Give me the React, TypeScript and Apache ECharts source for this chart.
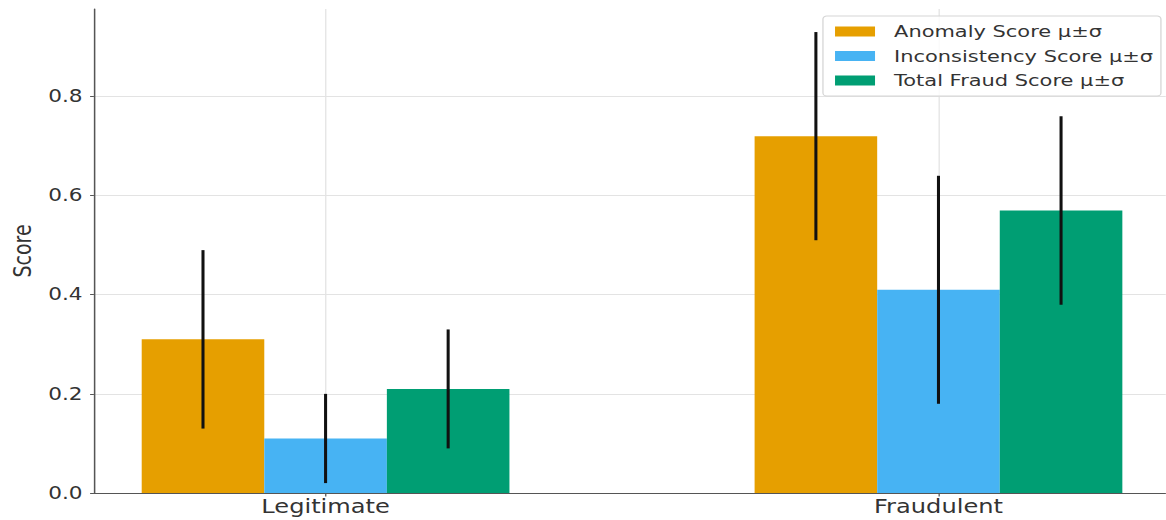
import React, { useEffect, useRef } from 'react';
import * as echarts from 'echarts';

// Group means and standard deviations per class
const categories = ['Legitimate', 'Fraudulent'];
const anomalyMean = [0.31, 0.72];
const anomalyStd = [0.18, 0.21];
const inconsistencyMean = [0.11, 0.41];
const inconsistencyStd = [0.09, 0.23];
const totalMean = [0.21, 0.57];
const totalStd = [0.12, 0.19];
const yTicks = [0, 0.2, 0.4, 0.6, 0.8];

const seriesNames = ['Anomaly Score μ±σ', 'Inconsistency Score μ±σ', 'Total Fraud Score μ±σ'];
const seriesColors = ['#E69F00', '#47B3F3', '#009E73'];
const seriesMeans = [anomalyMean, inconsistencyMean, totalMean];
const seriesStds = [anomalyStd, inconsistencyStd, totalStd];

const BAR_W = 0.2;
// The figure is laid out narrower and stretched horizontally to fill the page
const SX = 1.27;
const WIDTH = 1166 / SX;
const HEIGHT = 520;
const FONT = 'DejaVu Sans';

const makeRender = (offset: number) => (_params: any, api: any) => {
  const x = api.value(0) + offset;
  const m = api.value(1);
  const s = api.value(2);
  const tl = api.coord([x - BAR_W / 2, m]);
  const br = api.coord([x + BAR_W / 2, 0]);
  const hi = api.coord([x, m + s]);
  const lo = api.coord([x, m - s]);
  return {
    type: 'group',
    children: [
      {
        type: 'rect',
        shape: { x: tl[0], y: tl[1], width: br[0] - tl[0], height: br[1] - tl[1] },
        style: { fill: api.visual('color') },
      },
      {
        type: 'line',
        shape: { x1: hi[0], y1: hi[1], x2: lo[0], y2: lo[1] },
        style: { stroke: '#111', lineWidth: 2.4 },
      },
    ],
  };
};

export default function App() {
  const ref = useRef<HTMLDivElement>(null);

  useEffect(() => {
    if (!ref.current) return;
    const chart = echarts.init(ref.current, null, { renderer: 'svg' });

    let yMax = 0;
    seriesMeans.forEach((means, k) =>
      means.forEach((m, i) => {
        yMax = Math.max(yMax, m + seriesStds[k][i]);
      })
    );
    yMax *= 1.05;

    chart.setOption({
      animation: false,
      backgroundColor: '#fff',
      grid: { left: 92 / SX, right: 0, top: 9, bottom: 27 },
      legend: {
        orient: 'vertical',
        left: 648,
        top: 16,
        icon: 'rect',
        itemWidth: 31.5,
        itemHeight: 10,
        itemGap: 7.5,
        padding: [7, 6, 7, 9.5],
        borderColor: '#d5d5d5',
        borderWidth: 1,
        borderRadius: 3,
        backgroundColor: 'rgba(255,255,255,0.8)',
        textStyle: { fontFamily: FONT, fontSize: 16.5, color: '#333', padding: [0, 0, 0, 10] },
        data: seriesNames,
      },
      xAxis: {
        type: 'value',
        min: -0.378,
        max: 1.371,
        axisLine: { show: true, onZero: false, lineStyle: { color: '#555', width: 1.2 } },
        axisTick: { show: true, length: 3.5, customValues: [0, 1], lineStyle: { color: '#555' } },
        axisLabel: {
          customValues: [0, 1],
          formatter: (v: number) => categories[Math.round(v)],
          fontFamily: FONT,
          fontSize: 19,
          color: '#333',
          margin: 4,
        },
        splitLine: { show: true, lineStyle: { color: '#e3e3e3', width: 1 } },
      },
      yAxis: {
        type: 'value',
        min: 0,
        max: yMax,
        name: 'Score',
        nameLocation: 'middle',
        nameGap: 44,
        nameTextStyle: { fontFamily: FONT, fontSize: 19, color: '#333' },
        axisLine: { show: true, onZero: false, lineStyle: { color: '#555', width: 1.2 } },
        axisTick: { show: true, length: 3, customValues: yTicks, lineStyle: { color: '#555' } },
        axisLabel: {
          customValues: yTicks,
          formatter: (v: number) => v.toFixed(1),
          fontFamily: FONT,
          fontSize: 17,
          color: '#333',
          margin: 9,
        },
        splitLine: { show: true, lineStyle: { color: '#e3e3e3', width: 1 } },
      },
      series: seriesNames.map((name, k) => ({
        name,
        type: 'custom',
        itemStyle: { color: seriesColors[k] },
        renderItem: makeRender((k - 1) * BAR_W),
        encode: { x: 0, y: 1 },
        data: categories.map((_, i) => [i, seriesMeans[k][i], seriesStds[k][i]]),
      })),
    });

    return () => chart.dispose();
  }, []);

  return (
    <div
      ref={ref}
      style={{
        position: 'fixed',
        left: 0,
        top: 0,
        width: WIDTH,
        height: HEIGHT,
        transform: `scaleX(${SX})`,
        transformOrigin: '0 0',
      }}
    />
  );
}
